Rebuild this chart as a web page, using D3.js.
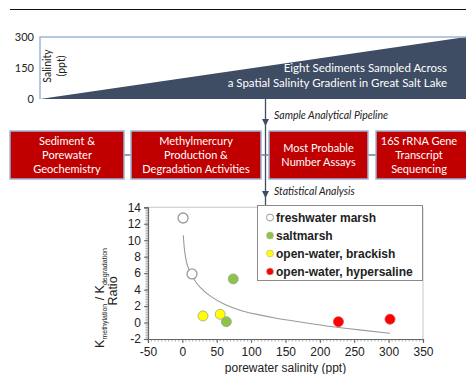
<!DOCTYPE html>
<html>
<head>
<meta charset="utf-8">
<script src="https://cdn.jsdelivr.net/npm/d3@7/dist/d3.min.js"></script>
<style>
  html, body { margin: 0; padding: 0; background: #fff; }
  svg { display: block; }
</style>
</head>
<body>
<svg id="fig" width="466" height="374"></svg>
<script>
// ---- salinity gradient panel ----
const gradientTicks = [0, 150, 300];
const gradientSalinity = [0, 300];          // salinity at left and right ends
const gradientCaption = ["Eight Sediments Sampled Across",
                         "a Spatial Salinity Gradient in Great Salt Lake"];

// ---- pipeline ----
const pipelineSteps = [
  ["Sediment &", "Porewater", "Geochemistry"],
  ["Methylmercury", "Production &", "Degradation Activities"],
  ["Most Probable", "Number Assays"],
  ["16S rRNA Gene", "Transcript", "Sequencing"]
];
const pipelineLabels = ["Sample Analytical Pipeline", "Statistical Analysis"];

// ---- scatter data ----
const categories = ["freshwater marsh", "saltmarsh", "open-water, brackish", "open-water, hypersaline"];
const categoryColors = ["#ffffff", "#8cc443", "#ffff00", "#ff0000"];
const salinity = [1, 14, 74, 64, 30, 55, 227, 302];
const ratio    = [12.7, 5.9, 5.3, 0.1, 0.8, 1.0, 0.1, 0.4];
const site     = [0, 0, 1, 1, 2, 2, 3, 3];
// trend line traced along its course
const trendX = [1.3, 2.5, 4, 6, 9, 13, 18, 25, 38, 62, 86, 110, 135, 161, 210, 258, 302];
const trendY = [10.6, 9.2, 8.2, 7.3, 6.5, 5.8, 5.1, 4.3, 3.3, 2.1, 1.4, 0.95, 0.55, 0.2, -0.45, -0.9, -1.3];
const xTicks = [-50, 0, 50, 100, 150, 200, 250, 300, 350];
const yTicks = [-2, 0, 2, 4, 6, 8, 10, 12, 14];

const svg = d3.select("#fig");
const slate = "#3e4c64";
const paleBlue = "#9cb6d6";
const sansUI = "Lato, 'Open Sans', sans-serif";
const arial = "'Liberation Sans', Arial, sans-serif";

// top rule
svg.append("line").attr("x1", 10).attr("x2", 466).attr("y1", 9.5).attr("y2", 9.5)
  .attr("stroke", "#111").attr("stroke-width", 1);

// gradient panel
const gx = d3.scaleLinear().domain(gradientSalinity).range([40, 466]);
const gy = d3.scaleLinear().domain([0, 300]).range([99, 37]);

svg.append("path")
  .attr("d", `M${gx(gradientSalinity[0])},${gy(0)} L${gx(gradientSalinity[1])},${gy(gradientSalinity[1])} L${gx(gradientSalinity[1])},${gy(0)} Z`)
  .attr("fill", slate);
svg.append("path")
  .attr("d", `M${gx(0)},${gy(0)} V${gy(300)} H466`)
  .attr("fill", "none").attr("stroke", paleBlue).attr("stroke-width", 1.5);

svg.selectAll("text.gtick").data(gradientTicks).join("text")
  .attr("class", "gtick")
  .attr("x", 34).attr("y", d => gy(d) + 4)
  .attr("text-anchor", "end")
  .attr("font-family", sansUI).attr("font-size", 11).attr("fill", "#222")
  .text(d => d);

["Salinity", "(ppt)"].forEach((s, i) => {
  svg.append("text")
    .attr("transform", `translate(${50.5 + i * 14},66) rotate(-90)`)
    .attr("text-anchor", "middle")
    .attr("font-family", sansUI).attr("font-size", 10.5).attr("fill", "#222")
    .text(s);
});

svg.selectAll("text.cap").data(gradientCaption).join("text")
  .attr("class", "cap")
  .attr("x", 447).attr("y", (d, i) => 72 + i * 15)
  .attr("text-anchor", "end")
  .attr("font-family", sansUI).attr("font-size", 11.5).attr("fill", "#fff")
  .text(d => d);

// pipeline flow: vertical connector with arrowheads
const flowX = 265.5;
svg.append("line").attr("x1", flowX).attr("x2", flowX).attr("y1", 99).attr("y2", 207)
  .attr("stroke", slate).attr("stroke-width", 1.3);
[126, 198].forEach(tip => {
  svg.append("path")
    .attr("d", `M${flowX - 3.5},${tip - 7} L${flowX + 3.5},${tip - 7} L${flowX},${tip} Z`)
    .attr("fill", slate);
});
svg.selectAll("text.flow").data(pipelineLabels).join("text")
  .attr("class", "flow")
  .attr("x", 274).attr("y", (d, i) => i === 0 ? 119 : 195)
  .attr("font-family", sansUI).attr("font-style", "italic").attr("font-size", 10.5)
  .attr("fill", "#222")
  .text(d => d);

// pipeline boxes
const boxes = [[10, 124], [131, 261], [269, 368], [376, 470]];
const boxTop = 131, boxBottom = 179, boxMid = (boxTop + boxBottom) / 2;
svg.append("line").attr("x1", 10).attr("x2", 466).attr("y1", boxMid).attr("y2", boxMid)
  .attr("stroke", "#6a7f9c").attr("stroke-width", 1.3);
const g = svg.selectAll("g.step").data(pipelineSteps).join("g").attr("class", "step");
g.append("rect")
  .attr("x", (d, i) => boxes[i][0]).attr("y", boxTop)
  .attr("width", (d, i) => boxes[i][1] - boxes[i][0]).attr("height", boxBottom - boxTop)
  .attr("fill", "#c00000").attr("stroke", paleBlue).attr("stroke-width", 1.5);
g.each(function (d, i) {
  const cx = (boxes[i][0] + boxes[i][1]) / 2 - (i === 3 ? 4 : 0);
  const t = d3.select(this).append("text")
    .attr("text-anchor", "middle")
    .attr("font-family", sansUI).attr("font-size", 11).attr("fill", "#fff");
  d.forEach((line, k) => {
    t.append("tspan").attr("x", cx)
      .attr("y", boxMid + 4 + (k - (d.length - 1) / 2) * 14)
      .text(line);
  });
});

// scatter plot
const x = d3.scaleLinear().domain([-50, 350]).range([148, 423]);
const y = d3.scaleLinear().domain([-2, 14]).range([339, 207.3]);

// frame
svg.append("path")
  .attr("d", `M${x(-50)},${y(14)} H${x(350)} V${y(-2)}`)
  .attr("fill", "none").attr("stroke", "#c8c8c8").attr("stroke-width", 1);

// minor ticks
const yMinor = d3.range(-2, 14.001, 0.2);
svg.selectAll("line.ym").data(yMinor).join("line")
  .attr("class", "ym")
  .attr("x1", x(-50) - 2.5).attr("x2", x(-50))
  .attr("y1", d => y(d)).attr("y2", d => y(d))
  .attr("stroke", "#777").attr("stroke-width", 0.6);
const xMinor = d3.range(-50, 350.001, 5);
svg.selectAll("line.xm").data(xMinor).join("line")
  .attr("class", "xm")
  .attr("x1", d => x(d)).attr("x2", d => x(d))
  .attr("y1", y(-2)).attr("y2", y(-2) + 2.5)
  .attr("stroke", "#777").attr("stroke-width", 0.6);

const yAxis = svg.append("g").attr("transform", `translate(${x(-50)},0)`)
  .call(d3.axisLeft(y).tickValues(yTicks).tickSize(4).tickPadding(3).tickFormat(d3.format("d")));
const xAxis = svg.append("g").attr("transform", `translate(0,${y(-2)})`)
  .call(d3.axisBottom(x).tickValues(xTicks).tickSize(4).tickPadding(4).tickFormat(d3.format("d")));
[yAxis, xAxis].forEach(a => {
  a.select(".domain").attr("stroke", "#666").attr("stroke-width", 1.2);
  a.selectAll(".tick line").attr("stroke", "#666");
  a.selectAll(".tick text").attr("font-family", arial).attr("font-size", 12).attr("fill", "#222");
});
yAxis.selectAll(".tick text").text(d => d < 0 ? "-" + Math.abs(d) : d);
xAxis.selectAll(".tick text").text(d => d < 0 ? "-" + Math.abs(d) : d);

// axis titles
svg.append("text")
  .attr("x", (x(-50) + x(350)) / 2).attr("y", 372)
  .attr("text-anchor", "middle")
  .attr("font-family", arial).attr("font-size", 12).attr("fill", "#222")
  .text("porewater salinity (ppt)");

const yt = svg.append("text")
  .attr("transform", `translate(104,298) rotate(-90)`)
  .attr("text-anchor", "middle")
  .attr("font-family", arial).attr("font-size", 12.5).attr("fill", "#222");
yt.append("tspan").text("K");
yt.append("tspan").attr("font-size", 7).attr("dy", 3).text("methylation");
yt.append("tspan").attr("dy", -3).text(" / K");
yt.append("tspan").attr("font-size", 7).attr("dy", 3).text("degradation");
svg.append("text")
  .attr("transform", `translate(117,291) rotate(-90)`)
  .attr("text-anchor", "middle")
  .attr("font-family", arial).attr("font-size", 12.5).attr("fill", "#222")
  .text("Ratio");

// trend line
const trend = trendX.map((v, i) => [v, trendY[i]]);
svg.append("path")
  .datum(trend)
  .attr("d", d3.line().x(d => x(d[0])).y(d => y(d[1])).curve(d3.curveBasis))
  .attr("fill", "none").attr("stroke", "#9a9a9a").attr("stroke-width", 1.1);

// points
const pts = salinity.map((v, i) => ({ s: v, r: ratio[i], c: site[i] }));
svg.selectAll("circle.pt").data(pts).join("circle")
  .attr("class", "pt")
  .attr("cx", d => x(d.s)).attr("cy", d => y(d.r)).attr("r", 5)
  .attr("fill", d => categoryColors[d.c])
  .attr("stroke", d => d.c === 0 ? "#9a9a9a" : (d.c === 3 ? "#e04040" : "#a0a0a0"))
  .attr("stroke-width", d => d.c === 0 ? 1.3 : 0.8);

// legend
svg.append("rect")
  .attr("x", 257.5).attr("y", 205.5).attr("width", 165).attr("height", 75)
  .attr("fill", "#fff").attr("stroke", "#8a8a8a").attr("stroke-width", 1);
const lg = svg.selectAll("g.leg").data(categories).join("g").attr("class", "leg")
  .attr("transform", (d, i) => `translate(270,${217.5 + i * 18})`);
lg.append("circle").attr("r", 3.5)
  .attr("fill", (d, i) => categoryColors[i])
  .attr("stroke", (d, i) => i === 0 ? "#9a9a9a" : "#b0b0b0")
  .attr("stroke-width", (d, i) => i === 0 ? 1 : 0.6);
lg.append("text").attr("x", 6).attr("y", 4.3)
  .attr("font-family", arial).attr("font-weight", "bold").attr("font-size", 12).attr("fill", "#222")
  .text(d => d);
</script>
</body>
</html>
